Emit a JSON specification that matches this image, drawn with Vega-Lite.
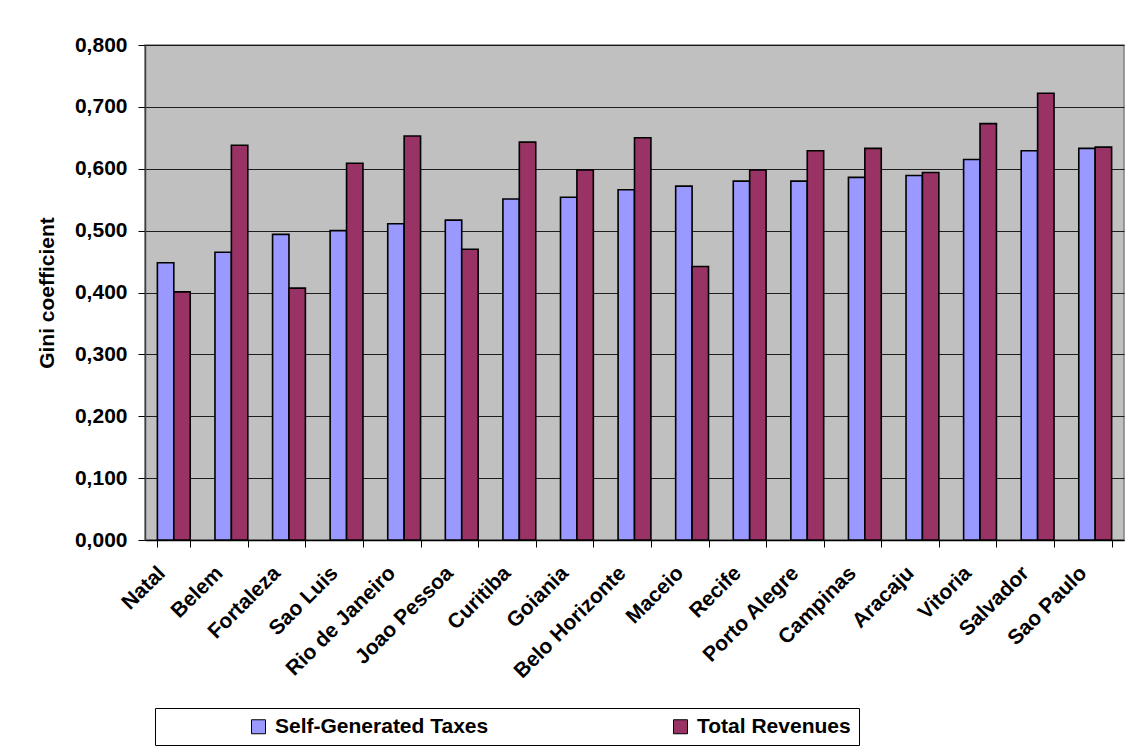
{
  "$schema": "https://vega.github.io/schema/vega-lite/v6.json",
  "autosize": {"type": "none"},
  "padding": {"left": 145, "top": 45, "right": 9, "bottom": 211},
  "width": 979,
  "height": 495,
  "background": "#FFFFFF",
  "config": {
    "font": "Liberation Sans",
    "view": {"fill": "#C0C0C0", "stroke": "#808080", "strokeWidth": 1.5},
    "axis": {"labelFont": "Liberation Sans", "titleFont": "Liberation Sans", "labelColor": "#000000", "titleColor": "#000000"}
  },
  "data": {
    "values": [
      {"city": "Natal", "series": "Self-Generated Taxes", "value": 0.448},
      {"city": "Natal", "series": "Total Revenues", "value": 0.401},
      {"city": "Belem", "series": "Self-Generated Taxes", "value": 0.465},
      {"city": "Belem", "series": "Total Revenues", "value": 0.638},
      {"city": "Fortaleza", "series": "Self-Generated Taxes", "value": 0.494},
      {"city": "Fortaleza", "series": "Total Revenues", "value": 0.407},
      {"city": "Sao Luis", "series": "Self-Generated Taxes", "value": 0.500},
      {"city": "Sao Luis", "series": "Total Revenues", "value": 0.609},
      {"city": "Rio de Janeiro", "series": "Self-Generated Taxes", "value": 0.511},
      {"city": "Rio de Janeiro", "series": "Total Revenues", "value": 0.653},
      {"city": "Joao Pessoa", "series": "Self-Generated Taxes", "value": 0.517},
      {"city": "Joao Pessoa", "series": "Total Revenues", "value": 0.470},
      {"city": "Curitiba", "series": "Self-Generated Taxes", "value": 0.551},
      {"city": "Curitiba", "series": "Total Revenues", "value": 0.643},
      {"city": "Goiania", "series": "Self-Generated Taxes", "value": 0.554},
      {"city": "Goiania", "series": "Total Revenues", "value": 0.598},
      {"city": "Belo Horizonte", "series": "Self-Generated Taxes", "value": 0.566},
      {"city": "Belo Horizonte", "series": "Total Revenues", "value": 0.650},
      {"city": "Maceio", "series": "Self-Generated Taxes", "value": 0.572},
      {"city": "Maceio", "series": "Total Revenues", "value": 0.442},
      {"city": "Recife", "series": "Self-Generated Taxes", "value": 0.580},
      {"city": "Recife", "series": "Total Revenues", "value": 0.598},
      {"city": "Porto Alegre", "series": "Self-Generated Taxes", "value": 0.580},
      {"city": "Porto Alegre", "series": "Total Revenues", "value": 0.629},
      {"city": "Campinas", "series": "Self-Generated Taxes", "value": 0.586},
      {"city": "Campinas", "series": "Total Revenues", "value": 0.633},
      {"city": "Aracaju", "series": "Self-Generated Taxes", "value": 0.589},
      {"city": "Aracaju", "series": "Total Revenues", "value": 0.594},
      {"city": "Vitoria", "series": "Self-Generated Taxes", "value": 0.615},
      {"city": "Vitoria", "series": "Total Revenues", "value": 0.673},
      {"city": "Salvador", "series": "Self-Generated Taxes", "value": 0.629},
      {"city": "Salvador", "series": "Total Revenues", "value": 0.722},
      {"city": "Sao Paulo", "series": "Self-Generated Taxes", "value": 0.633},
      {"city": "Sao Paulo", "series": "Total Revenues", "value": 0.635}
    ]
  },
  "mark": {"type": "bar", "stroke": "#000000", "strokeWidth": 1.6, "cornerRadius": 0},
  "encoding": {
    "x": {
      "field": "city",
      "type": "nominal",
      "sort": null,
      "scale": {"paddingInner": 0.43, "paddingOuter": 0.215},
      "axis": {
        "title": null,
        "labelAngle": -45,
        "labelFontSize": 21,
        "labelFontWeight": "bold",
        "labelPadding": 15,
        "labelOffset": -20,
        "tickBand": "extent",
        "tickSize": 7,
        "tickColor": "#000000",
        "domainColor": "#000000",
        "domainWidth": 1.5,
        "labelLimit": 300,
        "grid": false
      }
    },
    "xOffset": {
      "field": "series",
      "type": "nominal",
      "sort": ["Self-Generated Taxes", "Total Revenues"],
      "scale": {"paddingInner": 0, "paddingOuter": 0}
    },
    "y": {
      "field": "value",
      "type": "quantitative",
      "scale": {"domain": [0, 0.8], "nice": false},
      "axis": {
        "title": "Gini coefficient",
        "titleFontSize": 21,
        "titleFontWeight": "bold",
        "titlePadding": 17,
        "values": [0, 0.1, 0.2, 0.3, 0.4, 0.5, 0.6, 0.7, 0.8],
        "labelExpr": "replace(format(datum.value, '.3f'), '.', ',')",
        "labelFontSize": 21,
        "labelFontWeight": "bold",
        "labelPadding": 11,
        "tickSize": 7,
        "tickColor": "#000000",
        "domainColor": "#404040",
        "domainWidth": 1.5,
        "grid": true,
        "gridColor": "#000000",
        "gridWidth": 1,
        "gridOpacity": 0.85
      }
    },
    "color": {
      "field": "series",
      "type": "nominal",
      "sort": ["Self-Generated Taxes", "Total Revenues"],
      "scale": {"domain": ["Self-Generated Taxes", "Total Revenues"], "range": ["#9999FF", "#993366"]},
      "legend": {
        "title": null,
        "orient": "none",
        "legendX": 10,
        "legendY": 663,
        "direction": "horizontal",
        "columns": 2,
        "columnPadding": 96,
        "padding": 8,
        "strokeColor": "#000000",
        "fillColor": "#FFFFFF",
        "symbolType": "square",
        "symbolSize": 196,
        "symbolStrokeColor": "#000000",
        "symbolStrokeWidth": 1,
        "symbolOffset": 85,
        "labelFontSize": 21,
        "labelFontWeight": "bold",
        "labelFont": "Liberation Sans",
        "labelColor": "#000000",
        "labelOffset": 6,
        "labelLimit": 400
      }
    }
  }
}
